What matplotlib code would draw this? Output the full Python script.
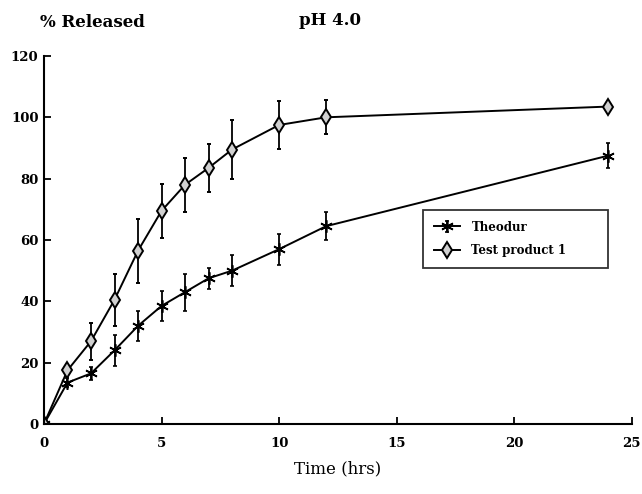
import matplotlib
matplotlib.use("Agg")
import matplotlib.pyplot as plt

time_hrs = [0, 1, 2, 3, 4, 5, 6, 7, 8, 10, 12, 24]
theodur = [0, 13.5, 16.5, 24, 32, 38.5, 43, 47.5, 50, 57, 64.5, 87.5]
theodur_err = [0, 1.5, 2, 5, 5, 4.8, 6, 3.5, 5, 5, 4.5, 4]
test_product = [0, 17.5, 27, 40.5, 56.5, 69.5, 78, 83.5, 89.5, 97.5, 100, 103.5]
test_err = [0, 1.5, 6, 8.4, 10.5, 8.7, 8.8, 7.9, 9.6, 7.8, 5.5, 1.5]
x_ticks = [0, 5, 10, 15, 20, 25]
y_ticks = [0, 20, 40, 60, 80, 100, 120]

fig = plt.figure(figsize=(6.42, 4.94), dpi=100)
ax = fig.add_axes([0.0685, 0.1417, 0.9155, 0.745])

serif = ["DejaVu Serif"]

ax.errorbar(time_hrs, theodur, yerr=theodur_err, color="black", lw=1.4,
            marker=(6, 2, 0), ms=9, mew=1.2, capsize=1.5, elinewidth=1.3,
            label="Theodur")
ax.errorbar(time_hrs, test_product, yerr=test_err, color="black", lw=1.4,
            marker="d", ms=8, mfc="#d0d0d0", mec="black", mew=1.4,
            capsize=1.5, elinewidth=1.3, label="Test product 1")

ax.set_xlim(0, 25)
ax.set_ylim(0, 120)
ax.set_xticks(x_ticks)
ax.set_yticks(y_ticks)
for s in ["top", "right"]:
    ax.spines[s].set_visible(False)
for s in ["left", "bottom"]:
    ax.spines[s].set_linewidth(1.5)
ax.tick_params(direction="in", length=5, width=1.3, labelsize=9.5)
for lab in ax.get_xticklabels() + ax.get_yticklabels():
    lab.set_fontweight("bold")
    lab.set_family(serif)
ax.tick_params(axis="x", pad=9)
ax.tick_params(axis="y", pad=4)

ax.set_xlabel("Time (hrs)", family=serif, fontsize=12, labelpad=8)
fig.text(0.062, 0.955, "% Released", family=serif, fontsize=12,
         fontweight="bold", va="center", ha="left")
fig.text(0.465, 0.958, "pH 4.0", family=serif, fontsize=12,
         fontweight="bold", va="center", ha="left")

leg = ax.legend(loc="upper left", bbox_to_anchor=(0.645, 0.40, 0.315, 0.1815),
                mode="expand", frameon=True, fancybox=False, edgecolor="black",
                prop={"family": serif, "weight": "bold", "size": 8.5},
                borderpad=0.9, labelspacing=0.9, handlelength=2.2,
                handletextpad=1.0, borderaxespad=0)
leg.get_frame().set_linewidth(1.3)

fig.savefig("out.png", dpi=100)
